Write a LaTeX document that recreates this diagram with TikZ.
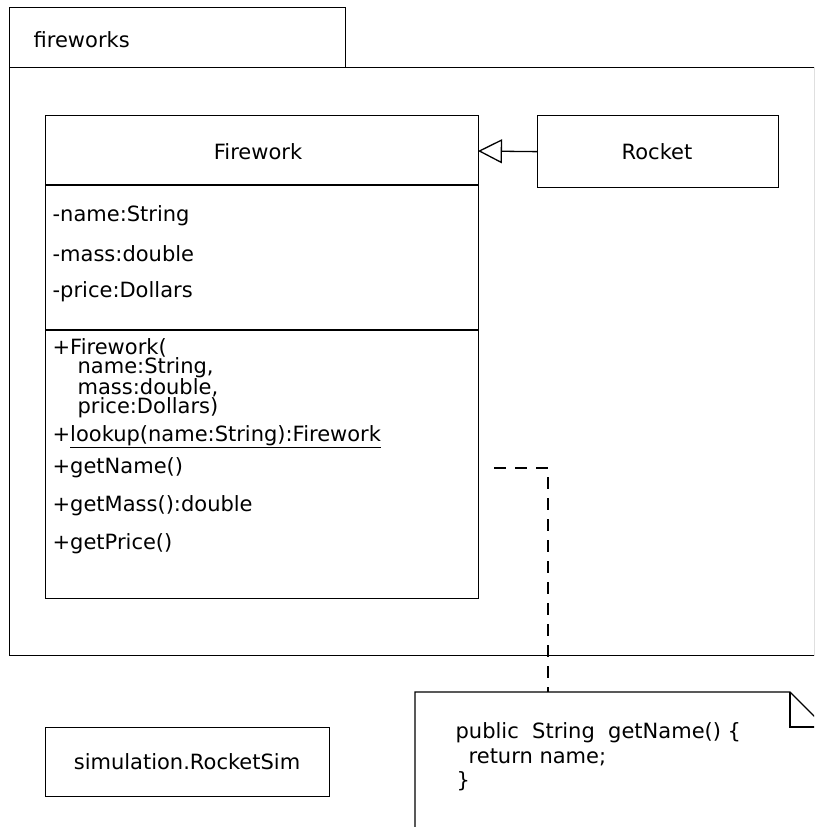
\documentclass[tikz,border=0pt]{standalone}
\usepackage{fontspec}
\setmainfont{DejaVu Sans}
\usetikzlibrary{arrows.meta}
\begin{document}
\begin{tikzpicture}[x=1pt,y=-1pt,line width=1.3pt,
  box/.style={draw,rectangle,inner sep=0pt,anchor=north west},
  txt/.style={anchor=west,inner sep=0pt,font=\fontsize{21}{24}\selectfont},
  ctxt/.style={inner sep=0pt,font=\fontsize{21}{24}\selectfont}]
\useasboundingbox (0,0) rectangle (814,827);
\clip (0,0) rectangle (814,827);
% package
\node[box,minimum width=336pt,minimum height=60pt] (tab) at (9,7) {};
\node[box,minimum width=805pt,minimum height=588pt] (pkg) at (9,67) {};
\node[txt] (pkgname) at (33,40) {fireworks};
% Firework class
\node[box,minimum width=433pt,minimum height=483pt] (fw) at (45,115) {};
\coordinate (s1l) at (45,185); \coordinate (s1r) at (478,185);
\coordinate (s2l) at (45,330); \coordinate (s2r) at (478,330);
\draw (s1l) -- (s1r);
\draw (s2l) -- (s2r);
\node[ctxt] (fwname) at (258,152) {Firework};
\node[txt] (a1) at (52,216) {-name:String};
\node[txt] (a2) at (52,254) {-mass:double};
\node[txt] (a3) at (52,292) {-price:Dollars};
\node[txt] (m1) at (52,348) {+Firework(};
\node[txt] (m1a) at (77,368) {name:String,};
\node[txt] (m1b) at (77,388) {mass:double,};
\node[txt] (m1c) at (77,408) {price:Dollars)};
\node[txt] (m2) at (52,437) {+\underline{lookup(name:String):Firework}};
\node[txt] (m3) at (52,468) {+getName()};
\node[txt] (m4) at (52,506) {+getMass():double};
\node[txt] (m5) at (52,544) {+getPrice()};
% Rocket
\node[box,minimum width=241pt,minimum height=72pt] (rocket) at (537,115) {};
\node[ctxt] (rocketname) at (657,152) {Rocket};
\coordinate (fwr) at (478,151);
\draw[-{Triangle[open,length=24pt,width=24pt]}] (rocket.west) -- (fwr);
% note
\coordinate (nA) at (415,840);
\coordinate (nB) at (415,692);
\coordinate (nC) at (790,692);
\coordinate (nD) at (825,727);
\coordinate (nE) at (825,840);
\coordinate (fA) at (790,727);
\draw (nA) -- (nB) -- (nC) -- (nD) -- (nE);
\draw (nC) -- (fA) -- (nD);
\node[txt] (n1) at (455,733) {public\ \ String\ \ getName() \{};
\node[txt] (n2) at (468,757) {return name;};
\node[txt] (n3) at (456,781) {\}};
% dashed link
\coordinate (d0) at (494,468);
\coordinate (d1) at (548,468);
\coordinate (d2) at (548,692);
\draw[dash pattern=on 12pt off 9pt] (d0) -- (d1) -- (d2);
% RocketSim
\node[box,minimum width=284pt,minimum height=69pt] (sim) at (45,727) {};
\node[ctxt] (simname) at (187,762) {simulation.RocketSim};
\end{tikzpicture}
\end{document}
